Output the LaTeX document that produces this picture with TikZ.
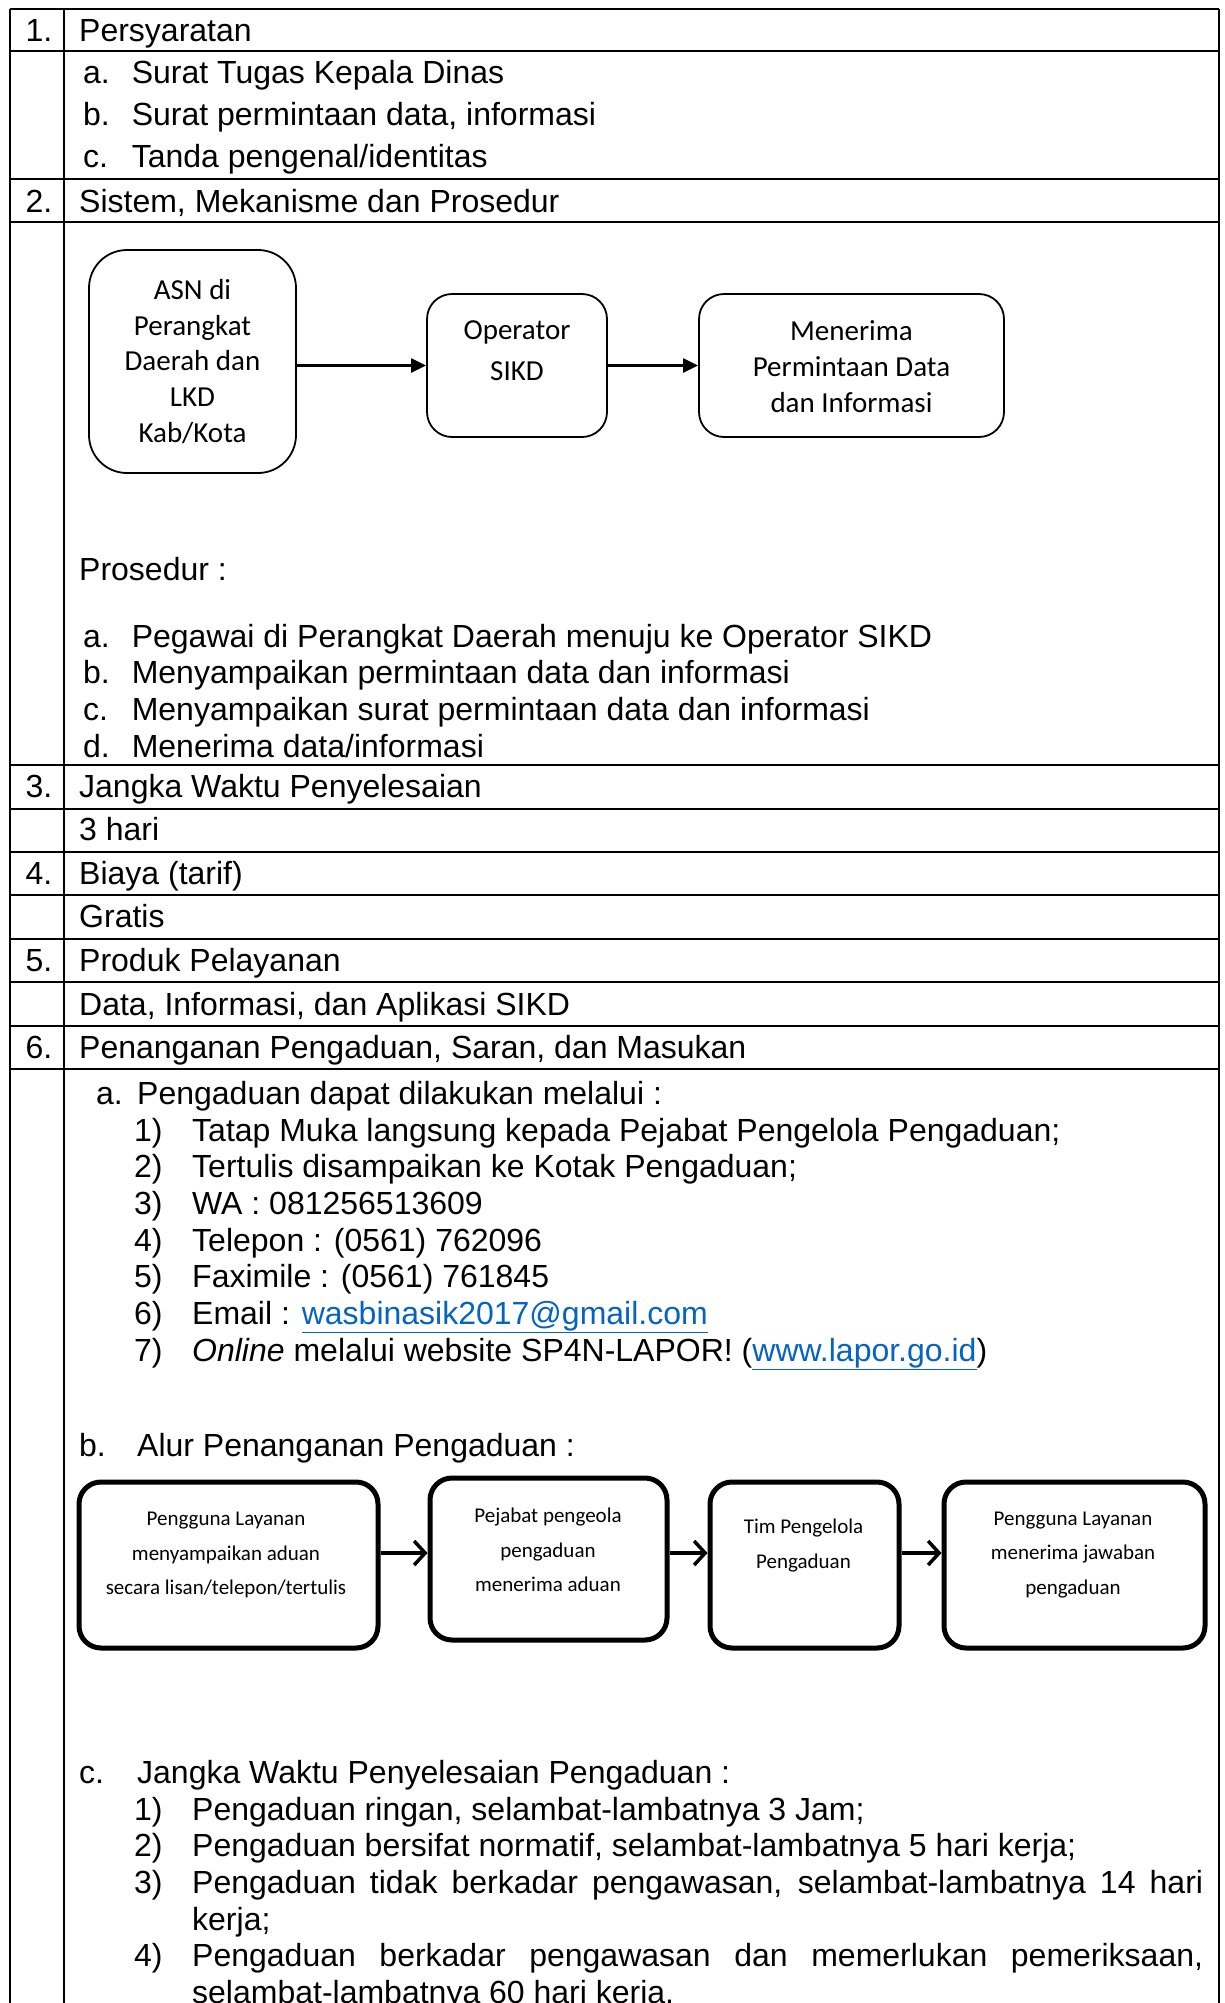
\documentclass[tikz,border=0pt]{standalone}
\usepackage{fontspec}
\setmainfont{Liberation Sans}
\newfontfamily\carlito{Carlito}
\usetikzlibrary{arrows.meta}
\definecolor{linkblue}{HTML}{0563C1}
\begin{document}
\begin{tikzpicture}[x=1pt,y=-1pt,
  txt/.style={anchor=base west, inner sep=0pt, font=\fontsize{32}{37}\selectfont},
  grid/.style={line width=2.5pt},
  fbox/.style={draw, line width=1.8pt, rounded corners=#1},
  ftext/.style={align=center, inner sep=0pt, font=\carlito\fontsize{29}{35.8}\selectfont},
  gbox/.style={draw, line width=5pt, rounded corners=22pt},
  gtext/.style={align=center, inner sep=0pt, font=\carlito\fontsize{21}{34.5}\selectfont},
  farrow/.style={line width=2.3pt, -{Triangle[length=15pt,width=14pt]}},
  garrow/.style={line width=4pt, -{Straight Barb[length=11pt,width=24pt,line width=3.5pt]}}
]
\useasboundingbox (0,0) rectangle (1225,2003);
\clip (0,0) rectangle (1225,2003);

% table grid
\foreach \yy in {9,51,179,222,765,809,852,895,939,982,1026,1069}
  \draw[grid] (10,\yy) -- (1219,\yy);
\foreach \xx in {10,64,1219}
  \draw[grid] (\xx,9) -- (\xx,2010);

% row 1
\node[txt] (n1) at (25.5,41) {1.};
\node[txt] (h1) at (79,41) {Persyaratan};
\node[txt] (l1a) at (83,83) {a.};
\node[txt] (t1a) at (131.6,83) {Surat Tugas Kepala Dinas};
\node[txt] (l1b) at (83,125) {b.};
\node[txt] (t1b) at (131.6,125) {Surat permintaan data, informasi};
\node[txt] (l1c) at (83,167) {c.};
\node[txt] (t1c) at (131.6,167) {Tanda pengenal/identitas};

% row 2
\node[txt] (n2) at (25.5,212) {2.};
\node[txt] (h2) at (79,212) {Sistem, Mekanisme dan Prosedur};

% flowchart 1
\node[fbox=38pt, minimum width=207pt, minimum height=223pt] (b1) at (192.5,361.5) {};
\node[fbox=25pt, minimum width=180pt, minimum height=143pt] (b2) at (517,365.5) {};
\node[fbox=25pt, minimum width=305pt, minimum height=143pt] (b3) at (851.5,365.5) {};
\node[ftext] (b1t) at (192.5,361.5) {ASN di\\Perangkat\\Daerah dan\\LKD\\Kab/Kota};
\node[ftext, font=\carlito\fontsize{29}{41}\selectfont] (b2t) at (517,351) {Operator\\SIKD};
\node[ftext] (b3t) at (851.5,366.5) {Menerima\\Permintaan Data\\dan Informasi};
\draw[farrow] (b1.east |- 0,365.5) -- (b2.west);
\draw[farrow] (b2.east) -- (b3.west);

\node[txt] (pros) at (79,580) {Prosedur :};
\node[txt] (l2a) at (83,647) {a.};
\node[txt] (t2a) at (131.6,647) {Pegawai di Perangkat Daerah menuju ke Operator SIKD};
\node[txt] (l2b) at (83,683.7) {b.};
\node[txt] (t2b) at (131.6,683.7) {Menyampaikan permintaan data dan informasi};
\node[txt] (l2c) at (83,720.4) {c.};
\node[txt] (t2c) at (131.6,720.4) {Menyampaikan surat permintaan data dan informasi};
\node[txt] (l2d) at (83,757.1) {d.};
\node[txt] (t2d) at (131.6,757.1) {Menerima data/informasi};

% rows 3-5
\node[txt] (n3) at (25.5,797) {3.};
\node[txt] (h3) at (79,797) {Jangka Waktu Penyelesaian};
\node[txt] (v3) at (79,840) {3 hari};
\node[txt] (n4) at (25.5,884) {4.};
\node[txt] (h4) at (79,884) {Biaya (tarif)};
\node[txt] (v4) at (79,927) {Gratis};
\node[txt] (n5) at (25.5,971) {5.};
\node[txt] (h5) at (79,971) {Produk Pelayanan};
\node[txt] (v5) at (79,1015) {Data, Informasi, dan Aplikasi SIKD};
\node[txt] (n6) at (25.5,1058) {6.};
\node[txt] (h6) at (79,1058) {Penanganan Pengaduan, Saran, dan Masukan};

% section 6a
\node[txt] (l6a) at (96,1104) {a.};
\node[txt] (t6a) at (137,1104) {Pengaduan dapat dilakukan melalui :};
\node[txt] (k1) at (134,1141) {1)};
\node[txt] (s1) at (192,1141) {Tatap Muka langsung kepada Pejabat Pengelola Pengaduan;};
\node[txt] (k2) at (134,1177.7) {2)};
\node[txt] (s2) at (192,1177.7) {Tertulis disampaikan ke Kotak Pengaduan;};
\node[txt] (k3) at (134,1214.4) {3)};
\node[txt] (s3) at (192,1214.4) {WA : 081256513609};
\node[txt] (k4) at (134,1251.1) {4)};
\node[txt] (s4) at (192,1251.1) {Telepon : (0561) 762096};
\node[txt] (k5) at (134,1287.8) {5)};
\node[txt] (s5) at (192,1287.8) {Faximile : (0561) 761845};
\node[txt] (k6) at (134,1324.5) {6)};
\node[txt] (s6) at (192,1324.5) {Email : {\color{linkblue}\underline{wasbinasik2017@gmail.com}}};
\node[txt] (k7) at (134,1361.2) {7)};
\node[txt] (s7) at (192,1361.2) {\textit{Online} melalui website SP4N-LAPOR! ({\color{linkblue}\underline{www.lapor.go.id}})};

% section 6b
\node[txt] (l6b) at (79,1456) {b.};
\node[txt] (t6b) at (137,1456) {Alur Penanganan Pengaduan :};

\node[gbox, minimum width=299pt, minimum height=166pt] (g1) at (228.5,1565) {};
\node[gbox, minimum width=237pt, minimum height=162pt] (g2) at (548.5,1559) {};
\node[gbox, minimum width=189pt, minimum height=166pt] (g3) at (804.5,1565) {};
\node[gbox, minimum width=261pt, minimum height=166pt] (g4) at (1074.5,1565) {};
\node[gtext] (g1t) at (226,1555) {Pengguna Layanan\\menyampaikan aduan\\secara lisan/telepon/tertulis};
\node[gtext] (g2t) at (548,1550) {Pejabat pengeola\\pengaduan\\menerima aduan};
\node[gtext] (g3t) at (803.5,1545.5) {Tim Pengelola\\Pengaduan};
\node[gtext] (g4t) at (1073,1555) {Pengguna Layanan\\menerima jawaban\\pengaduan};
\draw[garrow] (g1.east |- 0,1553) -- (g2.west |- 0,1553);
\draw[garrow] (g2.east |- 0,1553) -- (g3.west |- 0,1553);
\draw[garrow] (g3.east |- 0,1553) -- (g4.west |- 0,1553);

% section 6c
\node[txt] (l6c) at (79,1783) {c.};
\node[txt] (t6c) at (137,1783) {Jangka Waktu Penyelesaian Pengaduan :};
\node[txt] (j1) at (134,1820) {1)};
\node[txt] (u1) at (192,1820) {Pengaduan ringan, selambat-lambatnya 3 Jam;};
\node[txt] (j2) at (134,1856.7) {2)};
\node[txt] (u2) at (192,1856.7) {Pengaduan bersifat normatif, selambat-lambatnya 5 hari kerja;};
\node[txt] (j3) at (134,1893.4) {3)};
\node[txt] (u3) at (192,1893.4) {\makebox[1011pt][s]{Pengaduan tidak berkadar pengawasan, selambat-lambatnya 14 hari}};
\node[txt] (u3b) at (192,1930.1) {kerja;};
\node[txt] (j4) at (134,1966.8) {4)};
\node[txt] (u4) at (192,1966.8) {\makebox[1011pt][s]{Pengaduan berkadar pengawasan dan memerlukan pemeriksaan,}};
\node[txt] (u4b) at (192,2003.5) {selambat-lambatnya 60 hari kerja.};
\end{tikzpicture}
\end{document}
